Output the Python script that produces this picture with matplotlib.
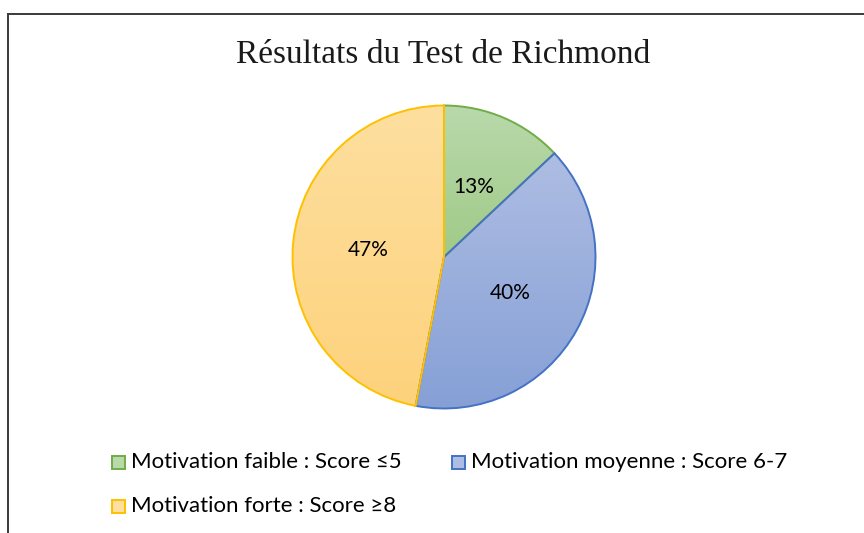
import numpy as np
import matplotlib
matplotlib.use("Agg")
import matplotlib.pyplot as plt
from matplotlib.colors import LinearSegmentedColormap
from matplotlib.lines import Line2D
from matplotlib.patches import Rectangle

# ------------------------------------------------------------------
# data
# ------------------------------------------------------------------
title = "Résultats du Test de Richmond"
categories = ["Motivation faible : Score ≤5",
              "Motivation moyenne : Score 6-7",
              "Motivation forte : Score ≥8"]
shares = [13, 40, 47]

# (top colour, bottom colour, edge colour) per slice, Excel-like gradient
fills = [("#b9d9ab", "#a0ca88", "#70ad47"),
         ("#aebde3", "#86a0d6", "#4472c4"),
         ("#fedf9f", "#fdd27c", "#ffc000")]

label_font = ["Lato", "DejaVu Sans"]

W, H = 864, 533
fig = plt.figure(figsize=(W / 100, H / 100), dpi=100)

# pie centred at (444, 257) px with radius 153 px
cx, cy, r = 444, 257, 153
ax = fig.add_axes([(cx - r) / W, (H - cy - r) / H, 2 * r / W, 2 * r / H])

wedges, texts, autotexts = ax.pie(
    shares, startangle=90, counterclock=False, radius=1,
    autopct="%1.0f%%", pctdistance=0.5,
    wedgeprops=dict(linewidth=1.4),
    textprops=dict(fontsize=15, family=label_font, color="black"))

grad = np.linspace(1, 0, 256).reshape(-1, 1)
for w, (top, bottom, edge) in zip(wedges, fills):
    w.set_facecolor("none")
    w.set_edgecolor(edge)
    w.set_zorder(3)
    ext = w.get_patch_transform().transform_path(w.get_path()).get_extents()
    cmap = LinearSegmentedColormap.from_list("g", [bottom, top])
    im = ax.imshow(grad, cmap=cmap, aspect="auto", zorder=2,
                   extent=(ext.x0, ext.x1, ext.y0, ext.y1))
    im.set_clip_path(w)
for t in autotexts:
    t.set_zorder(5)

ax.set_xlim(-1.01, 1.01)
ax.set_ylim(-1.01, 1.01)
ax.axis("off")

# title
fig.text(443 / W, 1 - 55 / H, title, ha="center", va="center",
         fontsize=24, family="Liberation Serif", color="#1a1a1a")

# chart frame (only top and left edges visible)
fig.add_artist(Line2D([8 / W, 1], [1 - 14 / H, 1 - 14 / H], color="#3a3a3a", lw=1.4))
fig.add_artist(Line2D([8 / W, 8 / W], [0, 1 - 14 / H], color="#3a3a3a", lw=1.4))

# legend, laid out row-wise like Excel
legend_pos = [(112, 462), (452, 462), (112, 506)]
for (lx, ly), name, (top, bottom, edge) in zip(legend_pos, categories, fills):
    fig.add_artist(Rectangle((lx / W, 1 - (ly + 6.5) / H), 13 / W, 13 / H,
                             facecolor=top, edgecolor=edge, lw=1.4))
    fig.text((lx + 19) / W, 1 - ly / H, name, ha="left", va="center",
             fontsize=16, family=label_font, color="black")

fig.savefig("out.png", dpi=100)
